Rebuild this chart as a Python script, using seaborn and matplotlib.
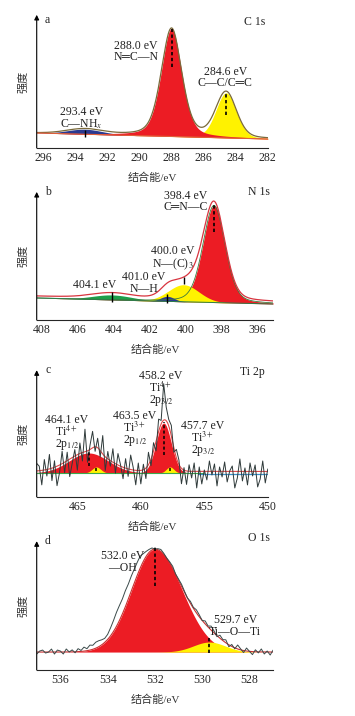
import numpy as np
import matplotlib
matplotlib.use('Agg')
import matplotlib.pyplot as plt
import seaborn as sns

# ----------- Fitted peak parameters (intensity in a.u.) -----------
# C 1s
c_center = [293.4, 288.0, 284.6]
c_height = [5, 108, 45]
c_fwhm = [2.6, 1.5, 1.5]
c_eta = [0.0, 0.35, 0.2]
c_base = [15, 9]          # baseline at left / right end
c_xlim = (296.4, 282.0)
c_ticks = [296, 294, 292, 290, 288, 286, 284, 282]

# N 1s
n_center = [404.1, 401.0, 400.1, 398.4]
n_height = [5, 5, 17, 97]
n_fwhm = [2.6, 0.9, 2.0, 1.45]
n_eta = [0.0, 0.0, 0.0, 0.25]
n_base = [22, 16]
n_xlim = (408.3, 395.1)
n_ticks = [408, 406, 404, 402, 400, 398, 396]

# Ti 2p
t_center = [464.1, 463.5, 458.2, 457.7]
t_height = [20, 6, 50, 6]
t_fwhm = [3.6, 0.8, 1.4, 0.7]
t_base = [24, 24]
t_xlim = (468.2, 450.0)
t_ticks = [465, 460, 455, 450]
t_energy = np.round(np.linspace(450, 468.2, 92), 1)
# raw spectrum minus fit (noise), 450.0 -> 468.2 eV
t_noise = [4, -10, 12, -6, -14, 8, -3, 10, -12, 5, -8, 14, -5, -15, 7, 2, -9, 11, -4, 6,
           -13, 9, -2, 12, -7, 3,
           -11, 6, -15, 10, -5, 8, -12, 4, -14, 6, 10, -3, 12, 8, 15, 38, 5, 14, -8, 10,
           -5, 14, -9, 7, -12,
           9, -13, 4, 16, -6, 11, -10, 3, 13, -8, 15, -4, 9, -12, 20, -5, 11, -3, 18, 6,
           -10, 24, -7, 12, -14, 8, -4, -16, 10, -9, 14, -6, -18, 8, -11, 16, -5, 12, -13, 6, 9]

# O 1s
o_center = [532.0, 529.7]
o_height = [103, 10]
o_fwhm = [2.3, 1.6]       # high binding energy side
o_fwhm_lo = [2.7, 1.6]    # low binding energy side
o_base = [18, 18]
o_xlim = (537.0, 527.0)
o_ticks = [536, 534, 532, 530, 528]
o_energy = np.linspace(527, 537, 81)
# raw spectrum minus fit, 527 -> 537 eV
o_noise = [2, -3, 1, -2, 3, -1, 2, -3, 0, 3, -2, 1, 4, -1, 2, -2, 3,
           1, 3, -1, 2, 4, 1, 3, 0, 2, 3, 1, 2, 0, 1, 2,
           1, 0, 2, 1, 0, 1, 2, 1, 0, 2, 3, 5,
           8, 12, 13, 14, 15, 15, 16, 15, 15, 14, 11, 8, 5, 4, 5, 6,
           6, 4, 5, 2, 4, 1, 3, -1, 2, 0, 3, -2, 1, 2, -2, 3, 0, -1, 2, 1, -2]

RED = '#EC1C24'
YEL = '#FFF200'
BLUE = '#2B3990'
GREEN = '#1E9E4A'
FS = 8.5


def peak(x, c, h, w, eta=0.0, w_lo=None):
    w = np.where(x < c, w if w_lo is None else w_lo, w)
    g = np.exp(-4 * np.log(2) * ((x - c) / w) ** 2)
    l = 1 / (1 + 4 * ((x - c) / w) ** 2)
    return h * ((1 - eta) * g + eta * l)


def baseline(x, xlim, base):
    return np.interp(x, [xlim[1], xlim[0]], [base[1], base[0]])


def label(ax, x, y_top, lines, ls=0.95):
    # one text block per annotation, top edge at y_top (data units)
    ax.text(x, y_top, '\n'.join(lines), fontsize=FS, ha='center', va='top',
            color='#222222', linespacing=ls, multialignment='center')


sns.set_style('ticks')
plt.rcParams['font.family'] = ['Liberation Serif', 'DejaVu Sans', 'Noto Sans CJK SC']
plt.rcParams['mathtext.fontset'] = 'stix'

fig = plt.figure(figsize=(3.55, 7.16), dpi=100)
axes = [fig.add_axes([0.1034, 0.7933, 0.651, 0.186]),
        fig.add_axes([0.1034, 0.553, 0.666, 0.179]),
        fig.add_axes([0.1034, 0.306, 0.651, 0.177]),
        fig.add_axes([0.1034, 0.0642, 0.666, 0.180])]
ylims = [133, 128, 127, 129]
CJK = ['Liberation Serif', 'Noto Sans CJK SC']


def style_axis(ax, xlim, ticks, ytop, letter, title, dy_letter, dy_title):
    ax.set_xlim(*xlim)
    ax.set_ylim(0, ytop)
    ax.set_xticks(ticks)
    ax.set_yticks([])
    sns.despine(ax=ax, left=True)
    ax.spines['bottom'].set_linewidth(0.8)
    ax.tick_params(axis='x', length=0, pad=3, labelsize=8.5)
    ax.annotate('', xy=(0, 1.0), xytext=(0, 0), xycoords='axes fraction',
                arrowprops=dict(arrowstyle='-|>', color='black', lw=0.8,
                                mutation_scale=7, shrinkA=0, shrinkB=0))
    ax.annotate(letter, xy=(0, 1), xycoords='axes fraction', xytext=(6, -dy_letter),
                textcoords='offset points', fontsize=8.5, va='center')
    ax.annotate(title, xy=(1, 1), xycoords='axes fraction', xytext=(-2, -dy_title),
                textcoords='offset points', fontsize=8.5, va='center', ha='right')
    ax.set_xlabel('结合能/eV', family=CJK, fontsize=8, color='#333333', labelpad=6)
    ax.set_ylabel('强度', family=CJK, fontsize=8, color='#333333', labelpad=6)


# ----------- a: C 1s -----------
ax = axes[0]
x = np.linspace(c_xlim[1], c_xlim[0], 600)
bl = baseline(x, c_xlim, c_base)
comps = [peak(x, c, h, w, e) for c, h, w, e in zip(c_center, c_height, c_fwhm, c_eta)]
for i, col in [(2, YEL), (0, BLUE), (1, RED)]:
    ax.fill_between(x, bl, bl + comps[i], color=col, lw=0)
env = bl + np.sum(comps, axis=0)
sns.lineplot(x=x, y=env, ax=ax, color='#7A6A3A', lw=0.9, sort=False)
sns.lineplot(x=x, y=bl, ax=ax, color='#E0603A', lw=0.8, sort=False)
ax.vlines(c_center[1], c_base[1] + 72, c_base[1] + c_height[1] + 2, colors='k', linestyles=(0, (2, 1.5)), lw=1.2)
ax.vlines(c_center[2], c_base[1] + 24, c_base[1] + c_height[2] + 2, colors='k', linestyles=(0, (2, 1.5)), lw=1.2)
ax.vlines(c_center[0], 11, 18, colors='k', lw=1)
label(ax, 290.2, 108, ['288.0 eV', 'N═C—N'])
label(ax, 284.65, 82, ['284.6 eV', 'C—C/C═C'])
label(ax, 293.6, 42, ['293.4 eV', 'C—NH$_x$'])
style_axis(ax, c_xlim, c_ticks, ylims[0], 'a', 'C 1s', 4, 5)

# ----------- b: N 1s -----------
ax = axes[1]
x = np.linspace(n_xlim[1], n_xlim[0], 600)
bl = baseline(x, n_xlim, n_base)
comps = [peak(x, c, h, w, e) for c, h, w, e in zip(n_center, n_height, n_fwhm, n_eta)]
for i, col in [(0, GREEN), (3, RED), (2, YEL), (1, BLUE)]:
    ax.fill_between(x, bl, bl + comps[i], color=col, lw=0)
sns.lineplot(x=x, y=bl + comps[3], ax=ax, color='#3C7A3C', lw=0.6, sort=False)
env = bl + np.sum(comps, axis=0)
sns.lineplot(x=x, y=env + 2, ax=ax, color='#D8343F', lw=0.9, sort=False)
sns.lineplot(x=x, y=bl, ax=ax, color='#2E7D4A', lw=0.7, sort=False)
ax.vlines(n_center[3], n_base[1] + 72, n_base[1] + n_height[3] + 4, colors='k', linestyles=(0, (2, 1.5)), lw=1.2)
ax.vlines(n_center[2], 36, 43, colors='k', lw=1)
ax.vlines(n_center[1], 17, 26, colors='k', lw=1)
ax.vlines(n_center[0], 18, 28, colors='k', lw=1)
label(ax, 400.0, 130, ['398.4 eV', 'C═N—C'])
label(ax, 400.7, 75, ['400.0 eV', 'N—(C)$_3$'])
label(ax, 402.3, 49, ['401.0 eV', 'N—H'])
label(ax, 405.06, 41, ['404.1 eV'])
style_axis(ax, n_xlim, n_ticks, ylims[1], 'b', 'N 1s', 0, 0)

# ----------- c: Ti 2p -----------
ax = axes[2]
x = np.linspace(t_xlim[1], t_xlim[0], 600)
bl = baseline(x, t_xlim, t_base)
comps = [peak(x, c, h, w) for c, h, w in zip(t_center, t_height, t_fwhm)]
for i, col in [(0, RED), (2, RED), (1, YEL), (3, YEL)]:
    ax.fill_between(x, bl, bl + comps[i], color=col, lw=0)
env = bl + np.sum(comps, axis=0)
sns.lineplot(x=x, y=env + 1.5, ax=ax, color='#E04848', lw=0.8, sort=False)
sns.lineplot(x=x[x > 455], y=bl[x > 455], ax=ax, color='#3BAA4B', lw=0.8, sort=False)
sns.lineplot(x=x[x <= 455.5], y=bl[x <= 455.5] - 1.5, ax=ax, color='#3A8FC8', lw=0.9, sort=False)
t_fit = np.interp(t_energy, x, env)
sns.lineplot(x=t_energy, y=t_fit + np.array(t_noise), ax=ax, color='#2F3A3A', lw=0.7, sort=False)
for c, h in zip(t_center, t_height):
    ax.vlines(c, 24 + h * 0.35, 24 + h + 1, colors='k', linestyles=(0, (2, 1.5)), lw=1.1)
label(ax, 458.44, 127, ['458.2 eV', 'Ti$^{4+}$', '2p$_{3/2}$'], 0.85)
label(ax, 465.82, 83, ['464.1 eV', 'Ti$^{4+}$', '2p$_{1/2}$'], 0.85)
label(ax, 460.48, 87, ['463.5 eV', 'Ti$^{3+}$', '2p$_{1/2}$'], 0.85)
label(ax, 455.13, 77, ['457.7 eV', 'Ti$^{3+}$', '2p$_{3/2}$'], 0.85)
style_axis(ax, t_xlim, t_ticks, ylims[2], 'c', 'Ti 2p', 0, 1)

# ----------- d: O 1s -----------
ax = axes[3]
x = np.linspace(o_xlim[1], o_xlim[0], 600)
bl = baseline(x, o_xlim, o_base)
comps = [peak(x, c, h, w, 0.0, wl) for c, h, w, wl in zip(o_center, o_height, o_fwhm, o_fwhm_lo)]
ax.fill_between(x, bl, bl + comps[0], color=RED, lw=0)
ax.fill_between(x, bl, bl + comps[1], color=YEL, lw=0)
env = bl + np.sum(comps, axis=0)
sns.lineplot(x=x, y=env, ax=ax, color='#C83030', lw=0.8, sort=False)
o_fit = np.interp(o_energy, x, env)
sns.lineplot(x=o_energy, y=o_fit + np.array(o_noise), ax=ax, color='#3A4A4A', lw=0.7, sort=False)
ax.vlines(o_center[0], 84, 124, colors='k', linestyles=(0, (2, 1.5)), lw=1.2)
ax.vlines(o_center[1], 17, 34, colors='k', linestyles=(0, (2, 1.5)), lw=1.2)
label(ax, 533.37, 120, ['532.0 eV', '—OH'])
label(ax, 528.6, 56, ['529.7 eV', 'Ti—O—Ti'])
style_axis(ax, o_xlim, o_ticks, ylims[3], 'd', 'O 1s', 0, -2)

plt.savefig('out.png', dpi=100)
